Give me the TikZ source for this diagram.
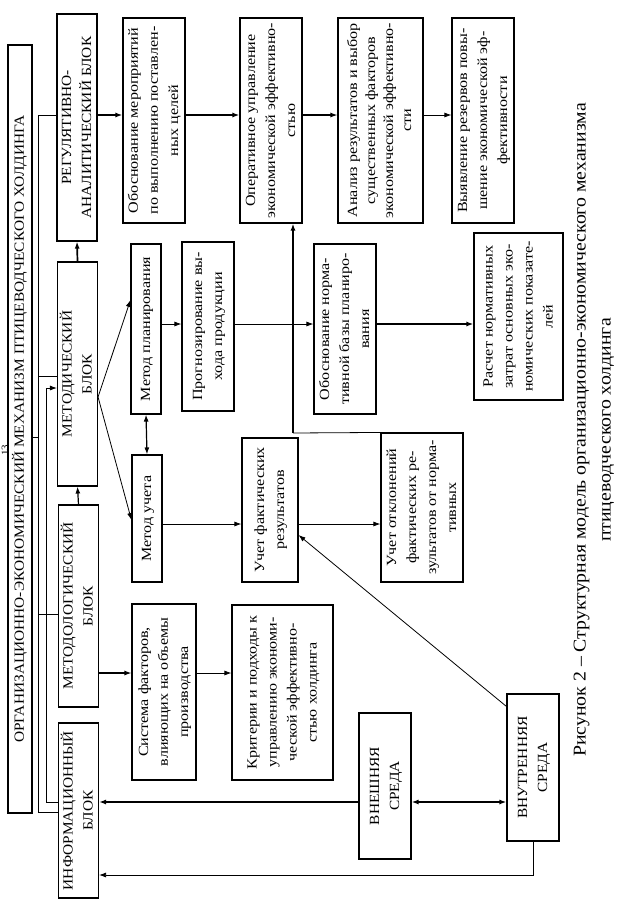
\documentclass[tikz,border=0pt]{standalone}
\usepackage{fontspec}
\setmainfont[FakeStretch=1.1]{Liberation Serif}
\newfontfamily\boxfont[FakeStretch=1.15]{Liberation Serif}
\usepackage{graphicx}
\usetikzlibrary{arrows.meta,calc}

\newcommand{\rtext}[1]{\rotatebox{90}{\begin{tabular}{@{}c@{}}#1\end{tabular}}}

\tikzset{
  blk/.style={draw, line width=1.1pt, inner sep=0pt, font=\fontsize{14}{20}\selectfont},
  sbox/.style={blk, font=\boxfont\fontsize{14}{20}\selectfont},
  ln/.style={line width=0.8pt},
  md/.style={line width=1.2pt},
  thk/.style={line width=1.7pt},
  arr/.style={-{Latex[length=7pt,width=5pt]}},
  darr/.style={{Latex[length=7pt,width=5pt]}-{Latex[length=7pt,width=5pt]}},
}

\begin{document}
\begin{tikzpicture}[x=1pt,y=-1pt]
\useasboundingbox (0,0) rectangle (624,914);

% level coordinates
\coordinate (rowA) at (0,115);
\coordinate (rowB) at (0,324);
\coordinate (rowC) at (0,524);
\coordinate (rowD) at (0,673);
\coordinate (rowE) at (0,802);
\coordinate (rowF) at (0,875);
\coordinate (infoA) at (0,812);
\coordinate (titleY) at (0,437);
\coordinate (mY1) at (0,376);
\coordinate (mY2) at (0,388);
\coordinate (mY3) at (0,614);
\coordinate (mY4) at (0,397);
\coordinate (pY) at (0,300);
\coordinate (uY) at (0,520);
\coordinate (busA) at (38,0);
\coordinate (busB) at (46,0);
\coordinate (cx) at (293,433);

% page number
\node[font=\fontsize{10}{12}\selectfont, inner sep=0pt] (pnum) at (5,450) {\rotatebox{90}{13}};

% title bar
\node[blk, minimum width=24pt, minimum height=768pt] (title) at (20,429)
  {\rtext{ОРГАНИЗАЦИОННО-ЭКОНОМИЧЕСКИЙ МЕХАНИЗМ ПТИЦЕВОДЧЕСКОГО ХОЛДИНГА}};

% blocks
\node[blk, minimum width=40pt, minimum height=227pt] (reg) at (77,127.5)
  {\rtext{РЕГУЛЯТИВНО-\\АНАЛИТИЧЕСКИЙ БЛОК}};
\node[blk, minimum width=39pt, minimum height=224pt] (metodich) at (77.5,374)
  {\rtext{МЕТОДИЧЕСКИЙ\\БЛОК}};
\node[blk, minimum width=39pt, minimum height=202pt] (metodol) at (78.5,606)
  {\rtext{МЕТОДОЛОГИЧЕСКИЙ\\БЛОК}};
\node[blk, minimum width=39pt, minimum height=175pt] (inform) at (78.5,810.5)
  {\rtext{ИНФОРМАЦИОННЫЙ\\БЛОК}};

% top row
\node[sbox, minimum width=62pt, minimum height=205pt] (obosn) at (154,120.5)
  {\rtext{Обоснование мероприятий\\по выполнению поставлен-\\ных целей}};
\node[sbox, minimum width=62pt, minimum height=205pt] (oper) at (271,120.5)
  {\rtext{Оперативное управление\\экономической эффективно-\\стью}};
\node[sbox, minimum width=85pt, minimum height=205pt, font=\boxfont\fontsize{14}{18}\selectfont] (analiz) at (380.5,120.5)
  {\rtext{Анализ результатов и выбор\\существенных факторов\\экономической эффективно-\\сти}};
\node[sbox, minimum width=62pt, minimum height=205pt] (vyyav) at (483,120.5)
  {\rtext{Выявление резервов повы-\\шение экономической эф-\\фективности}};

% second row
\node[sbox, minimum width=30pt, minimum height=170pt] (plan) at (146,329)
  {\rtext{Метод планирования}};
\node[sbox, minimum width=52pt, minimum height=169pt] (prog) at (208,326.5)
  {\rtext{Прогнозирование вы-\\хода продукции}};
\node[sbox, minimum width=62pt, minimum height=170pt] (normbaza) at (345,329)
  {\rtext{Обоснование норма-\\тивной базы планиро-\\вания}};
\node[sbox, minimum width=89pt, minimum height=167pt] (raschet) at (518.5,316.5)
  {\rtext{Расчет нормативных\\затрат основных эко-\\номических показате-\\лей}};

% third row
\node[sbox, minimum width=30pt, minimum height=127pt] (uchet) at (147,518.5)
  {\rtext{Метод учета}};
\node[sbox, minimum width=56pt, minimum height=144pt] (fakt) at (270,510)
  {\rtext{Учет фактических\\результатов}};
\node[sbox, minimum width=82pt, minimum height=149pt] (otkl) at (422,507.5)
  {\rtext{Учет отклонений\\фактических ре-\\зультатов от норма-\\тивных}};

% fourth row
\node[sbox, minimum width=64pt, minimum height=176pt] (sistema) at (164,692)
  {\rtext{Система факторов,\\влияющих на объемы\\производства}};
\node[sbox, minimum width=101pt, minimum height=175pt] (kriter) at (282.5,692.5)
  {\rtext{Критерии и подходы к\\управлению экономи-\\ческой эффективно-\\стью холдинга}};
\node[blk, minimum width=52pt, minimum height=146pt] (vnesh) at (385,786)
  {\rtext{ВНЕШНЯЯ\\СРЕДА}};
\node[blk, minimum width=52pt, minimum height=147pt] (vnutr) at (533,767.5)
  {\rtext{ВНУТРЕННЯЯ\\СРЕДА}};

% caption
\node[inner sep=0pt, font=\fontsize{18}{25}\selectfont] (caption) at (593,430)
  {\rtext{Рисунок 2 – Структурная модель организационно-экономического механизма\\птицеводческого холдинга}};

% left buses
\draw[ln] (reg.west |- rowA) -- (busA |- rowA) -- (busA |- infoA) -- (inform.west |- infoA);
\draw[ln] (title.east |- titleY) -- (busA |- titleY);
\draw[ln] (busA |- mY1) -- (metodich.west |- mY1);
\draw[ln] (busA |- mY3) -- (metodol.west |- mY3);
\draw[ln,arr] (inform.west |- rowE) -- (busB |- rowE) -- (busB |- mY2) -- (metodich.west |- mY2);

% vertical block arrows
\draw[thk,arr] (metodich.north) -- (reg.south);
\draw[md,arr] (metodol.north) -- (metodich.south);

% top row arrows
\draw[thk,arr] (reg.east |- rowA) -- (obosn.west |- rowA);
\draw[thk,arr] (obosn.east |- rowA) -- (oper.west |- rowA);
\draw[md,arr] (oper.east |- rowA) -- (analiz.west |- rowA);
\draw[ln,arr] (analiz.east |- rowA) -- (vyyav.west |- rowA);

% methodical block
\draw[ln,arr] (metodich.east |- mY4) -- (plan.west |- pY);
\draw[ln,arr] (metodich.east |- mY4) -- (uchet.west |- uY);
\draw[md,darr] (plan.south) -- (uchet.north);
\draw[ln,arr] (plan.east |- rowB) -- (prog.west |- rowB);
\draw[ln,arr] (prog.east |- rowB) -- (normbaza.west |- rowB);
\draw[thk,arr] (normbaza.east |- rowB) -- (raschet.west |- rowB);

% accounting row
\draw[ln,arr] (uchet.east |- rowC) -- (fakt.west |- rowC);
\draw[ln,arr] (fakt.east |- rowC) -- (otkl.west |- rowC);
\draw[ln] (otkl.north west) -- (cx);
\draw[thk,arr] (cx) -- (oper.south -| cx);

% methodological row
\draw[md,arr] (metodol.east |- rowD) -- (sistema.west |- rowD);
\draw[ln,arr] (sistema.east |- rowD) -- (kriter.west |- rowD);

% environment
\draw[thk,arr] (vnesh.west |- rowE) -- (inform.east |- rowE);
\draw[thk,darr] (vnesh.east |- rowE) -- (vnutr.west |- rowE);
\draw[ln,arr] (vnutr.south) -- (vnutr.south |- rowF) -- (inform.east |- rowF);
\draw[ln,arr] ([yshift=-13pt]vnutr.north west) -- ([yshift=-25pt]fakt.east);
\end{tikzpicture}
\end{document}
